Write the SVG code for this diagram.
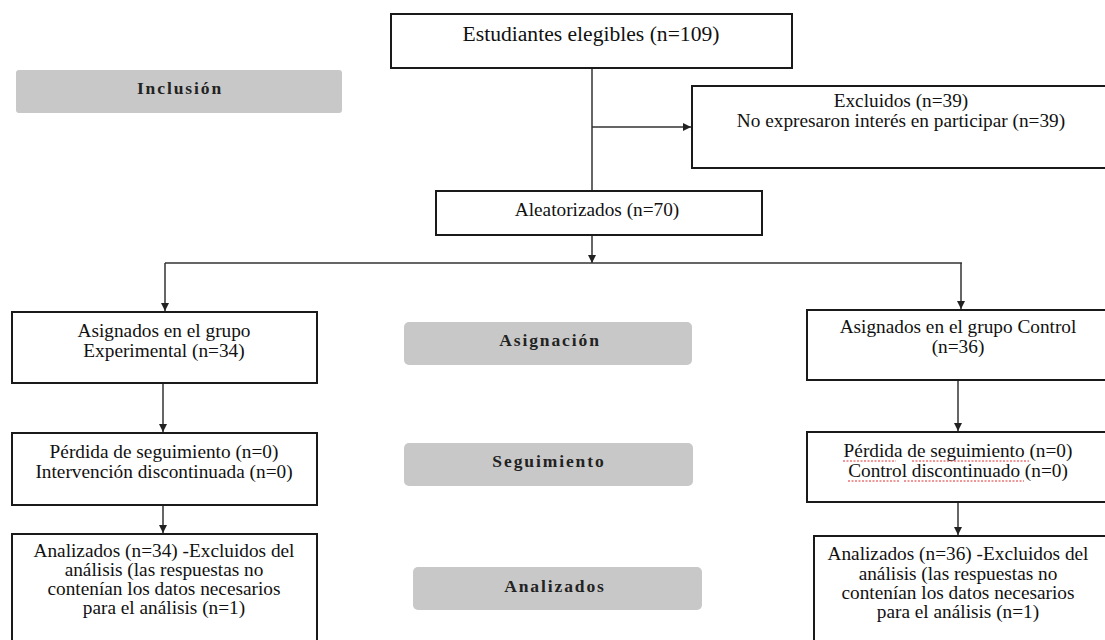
<svg xmlns="http://www.w3.org/2000/svg" width="1105" height="640" viewBox="0 0 1105 640">
<style>
.box{fill:#fff;stroke:#1a1a1a;stroke-width:2}
.t{font-family:"Liberation Serif","Times New Roman",serif;font-size:19.3px;fill:#111;text-anchor:middle}
.big{font-size:21.6px}
.lab{fill:#c8c8c8}
.lt{font-family:"Liberation Serif","Times New Roman",serif;font-size:17.5px;font-weight:bold;letter-spacing:1.9px;fill:#222;text-anchor:middle}
.c{stroke:#333;stroke-width:1.5;fill:none}
.sp{stroke:#e03030;stroke-width:1;fill:none;stroke-dasharray:2 1.5}
</style>
<defs>
<marker id="ah" markerWidth="10" markerHeight="10" refX="9" refY="5" orient="auto" markerUnits="userSpaceOnUse">
<path d="M1,1 L9,5 L1,9 Z" fill="#222"/>
</marker>
</defs>
<rect width="1105" height="640" fill="#fff"/>

<g id="label-inclusion">
<rect class="lab" x="16" y="70" width="326" height="43" rx="3"/>
<text class="lt" x="180" y="94">Inclusión</text>
</g>
<g id="label-asignacion">
<rect class="lab" x="404" y="322" width="288" height="43" rx="5"/>
<text class="lt" x="550" y="346">Asignación</text>
</g>
<g id="label-seguimiento">
<rect class="lab" x="404" y="443" width="289" height="43" rx="5"/>
<text class="lt" x="549" y="467">Seguimiento</text>
</g>
<g id="label-analizados">
<rect class="lab" x="413" y="567" width="289" height="43" rx="5"/>
<text class="lt" x="555" y="592">Analizados</text>
</g>

<g id="connectors">
<line class="c" x1="592" y1="68" x2="592" y2="191"/>
<line class="c" x1="592" y1="127" x2="691" y2="127" stroke="#666" marker-end="url(#ah)"/>
<line class="c" x1="592" y1="235" x2="592" y2="263" marker-end="url(#ah)"/>
<line class="c" x1="165" y1="263" x2="962" y2="263"/>
<line class="c" x1="165" y1="263" x2="165" y2="311" marker-end="url(#ah)"/>
<line class="c" x1="961" y1="263" x2="961" y2="309" marker-end="url(#ah)"/>
<line class="c" x1="163" y1="383" x2="163" y2="432" marker-end="url(#ah)"/>
<line class="c" x1="163" y1="505" x2="163" y2="533" marker-end="url(#ah)"/>
<line class="c" x1="958" y1="380" x2="958" y2="431" marker-end="url(#ah)"/>
<line class="c" x1="958" y1="502" x2="958" y2="535" marker-end="url(#ah)"/>
</g>

<g id="elegibles">
<rect class="box" x="391" y="14" width="401" height="54"/>
<text class="t big" x="591" y="41">Estudiantes elegibles (n=109)</text>
</g>
<g id="excluidos">
<rect class="box" x="692" y="86" width="420" height="82"/>
<text class="t" x="901" y="107">Excluidos (n=39)</text>
<text class="t" x="901" y="127">No expresaron interés en participar (n=39)</text>
</g>
<g id="aleatorizados">
<rect class="box" x="436" y="191" width="326" height="44"/>
<text class="t" x="597" y="216">Aleatorizados (n=70)</text>
</g>
<g id="asig-exp">
<rect class="box" x="12" y="312" width="305" height="71"/>
<text class="t" x="164" y="337">Asignados en el grupo</text>
<text class="t" x="164" y="357">Experimental (n=34)</text>
</g>
<g id="asig-ctrl">
<rect class="box" x="807" y="310" width="305" height="70"/>
<text class="t" x="958" y="333">Asignados en el grupo Control</text>
<text class="t" x="958" y="353">(n=36)</text>
</g>
<g id="seg-exp">
<rect class="box" x="12" y="433" width="305" height="72"/>
<text class="t" x="164" y="458">Pérdida de seguimiento (n=0)</text>
<text class="t" x="164" y="478">Intervención discontinuada (n=0)</text>
</g>
<g id="seg-ctrl">
<rect class="box" x="807" y="432" width="305" height="70"/>
<text class="t" x="958" y="457">Pérdida de seguimiento (n=0)</text>
<text class="t" x="958" y="477">Control discontinuado (n=0)</text>
<path class="sp" d="M843,461 H896 M912,461 H1029 M848,481 H900 M904,481 H1024"/>
</g>
<g id="ana-exp">
<rect class="box" x="12" y="534" width="305" height="120"/>
<text class="t" x="164" y="557">Analizados (n=34) -Excluidos del</text>
<text class="t" x="164" y="576">análisis (las respuestas no</text>
<text class="t" x="164" y="595">contenían los datos necesarios</text>
<text class="t" x="164" y="614">para el análisis (n=1)</text>
</g>
<g id="ana-ctrl">
<rect class="box" x="814" y="536" width="305" height="120"/>
<text class="t" x="958" y="560">Analizados (n=36) -Excluidos del</text>
<text class="t" x="958" y="580">análisis (las respuestas no</text>
<text class="t" x="958" y="599">contenían los datos necesarios</text>
<text class="t" x="958" y="618">para el análisis (n=1)</text>
</g>
</svg>
